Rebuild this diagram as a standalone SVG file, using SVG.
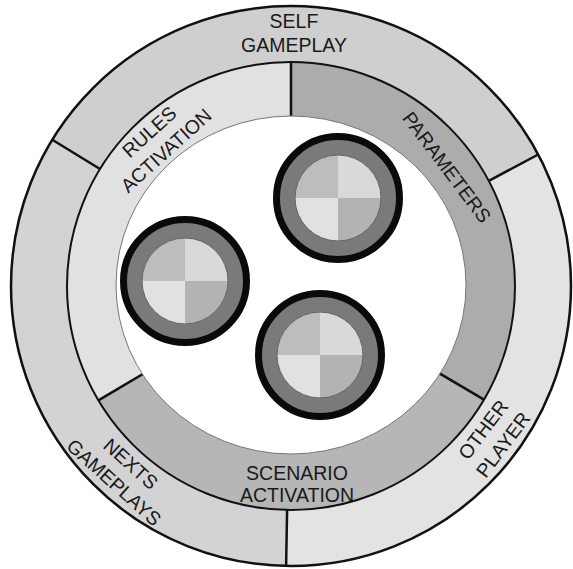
<svg xmlns="http://www.w3.org/2000/svg" width="573" height="569" viewBox="0 0 573 569">
<style>
.lbl{font-family:"Liberation Sans",Arial,sans-serif;font-size:19.5px;fill:#1a1a1a;text-anchor:middle}
.div{stroke:#111;stroke-width:2.5;fill:none}
.ring{fill:none;stroke:#111}
.blk{fill:#7a7a7a;stroke:#0a0a0a;stroke-width:7}
.core{fill:none;stroke:#666;stroke-width:1}
</style>
<defs>
<g id="disc">
<circle r="61.5" class="blk"/>
<path d="M0,0 L-43,0 A43,43 0 0 1 0,-43 Z" fill="#bdbdbd"/>
<path d="M0,0 L0,-43 A43,43 0 0 1 43,0 Z" fill="#d9d9d9"/>
<path d="M0,0 L43,0 A43,43 0 0 1 0,43 Z" fill="#b3b3b3"/>
<path d="M0,0 L0,43 A43,43 0 0 1 -43,0 Z" fill="#e1e1e1"/>
<circle r="43" class="core"/>
</g>
</defs>
<rect width="573" height="569" fill="#fff"/>

<g id="self-gameplay">
<path d="M291,286 L52.3,139.7 A280,280 0 0 1 538.2,154.5 Z" fill="#cfcfcf"/>
<text class="lbl"><tspan x="294" y="28">SELF</tspan><tspan x="294" y="52">GAMEPLAY</tspan></text>
</g>
<g id="other-player">
<path d="M291,286 L538.2,154.5 A280,280 0 0 1 286.1,566 Z" fill="#e3e3e3"/>
<text class="lbl" transform="translate(493,437) rotate(-53)"><tspan x="0" y="-5.5">OTHER</tspan><tspan x="0" y="19.5">PLAYER</tspan></text>
</g>
<g id="nexts-gameplays">
<path d="M291,286 L286.1,566 A280,280 0 0 1 52.3,139.7 Z" fill="#d3d3d3"/>
<text class="lbl" transform="translate(122.5,473) rotate(42)"><tspan x="0" y="-5.5">NEXTS</tspan><tspan x="0" y="19.5">GAMEPLAYS</tspan></text>
</g>

<g id="rules-activation">
<path d="M291,286 L98.4,400.4 A224,224 0 0 1 291,62 Z" fill="#e1e1e1"/>
<text class="lbl" transform="translate(157.5,141) rotate(-42)"><tspan x="0" y="-5.5">RULES</tspan><tspan x="0" y="19.5">ACTIVATION</tspan></text>
</g>
<g id="parameters">
<path d="M291,286 L291,62 A224,224 0 0 1 484,399.7 Z" fill="#acacac"/>
<text class="lbl" transform="translate(447,167) rotate(53)" x="0" y="7">PARAMETERS</text>
</g>
<g id="scenario-activation">
<path d="M291,286 L484,399.7 A224,224 0 0 1 98.4,400.4 Z" fill="#b6b6b6"/>
<text class="lbl"><tspan x="297" y="480">SCENARIO</tspan><tspan x="297" y="502">ACTIVATION</tspan></text>
</g>

<g id="connectors">
<line class="div" x1="100" y1="169" x2="52.3" y2="139.7"/>
<line class="div" x1="488.8" y1="180.8" x2="538.2" y2="154.5"/>
<line class="div" x1="287.1" y1="510" x2="286.1" y2="566"/>
<line class="div" x1="291" y1="126" x2="291" y2="62"/>
<line class="div" x1="428.9" y1="367.2" x2="484" y2="399.7"/>
<line class="div" x1="153.4" y1="367.7" x2="98.4" y2="400.4"/>
</g>

<g id="center">
<ellipse cx="291" cy="285" rx="175" ry="169" fill="#fff" stroke="#777" stroke-width="1"/>
</g>
<circle cx="291" cy="286" r="280" class="ring" stroke-width="2.5"/>
<circle cx="291" cy="286" r="224" class="ring" stroke-width="2"/>

<g id="disc-1"><use href="#disc" x="338" y="198"/></g>
<g id="disc-2"><use href="#disc" x="185" y="281"/></g>
<g id="disc-3"><use href="#disc" x="320" y="355"/></g>
</svg>
